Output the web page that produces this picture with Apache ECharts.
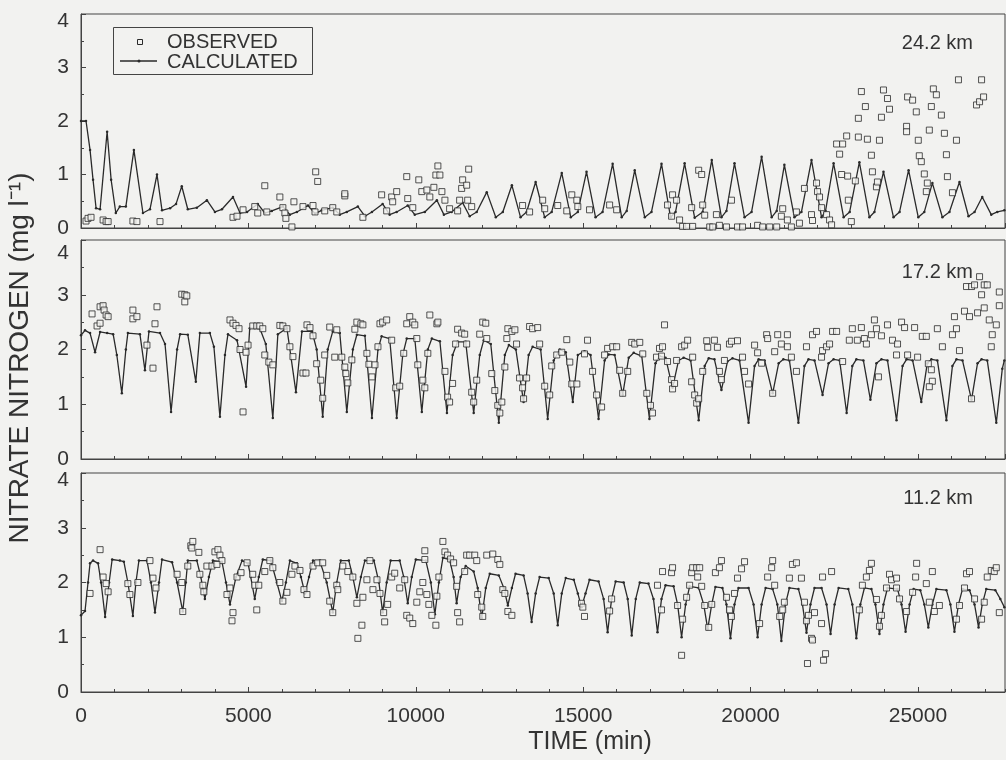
<!DOCTYPE html>
<html><head><meta charset="utf-8">
<script src="https://cdn.jsdelivr.net/npm/echarts@6/dist/echarts.min.js"></script>
<style>html,body{margin:0;padding:0;background:#f2f2f0}#c{width:1006px;height:760px}</style>
</head><body><div id="c"></div>
<script>
// ---- data (time in minutes, nitrate nitrogen in mg/l) ----
const stations = ['24.2 km', '17.2 km', '11.2 km'];
const xTitle = 'TIME (min)';
const yTitle = 'NITRATE NITROGEN (mg l\u207B\u00B9)';
const legendNames = ['OBSERVED', 'CALCULATED'];

const calc242 = [[0,2.0],[150,2.0],[270,1.46],[360,0.9],[450,0.37],[570,0.35],[780,1.8],[900,0.9],[1040,0.28],[1160,0.4],[1340,0.4],[1580,1.46],[1850,0.28],[2060,0.35],[2270,1.0],[2420,0.33],[2660,0.37],[2840,0.45],[3010,0.78],[3190,0.35],[3460,0.38],[3760,0.52],[4000,0.3],[4210,0.35],[4540,0.58],[4750,0.28],[4960,0.3],[5280,0.45],[5490,0.28],[5700,0.32],[6030,0.4],[6240,0.25],[6450,0.3],[6780,0.42],[6990,0.27],[7190,0.33],[7520,0.38],[7730,0.25],[7940,0.3],[8270,0.4],[8480,0.22],[8690,0.3],[9010,0.45],[9220,0.25],[9430,0.3],[9760,0.42],[9970,0.25],[10270,0.3],[10630,0.52],[10840,0.25],[11070,0.3],[11400,0.47],[11610,0.22],[11820,0.3],[12120,0.67],[12390,0.2],[12600,0.3],[12870,0.8],[13130,0.2],[13310,0.3],[13580,0.86],[13850,0.2],[14060,0.3],[14360,1.03],[14630,0.2],[14840,0.3],[15100,1.05],[15370,0.2],[15580,0.3],[15880,1.2],[16150,0.2],[16300,0.32],[16540,1.08],[16840,0.2],[17040,0.3],[17340,1.2],[17610,0.2],[17760,0.3],[18030,1.21],[18330,0.19],[18570,0.3],[18840,1.27],[19130,0.2],[19280,0.32],[19520,1.21],[19820,0.2],[20030,0.3],[20330,1.33],[20630,0.2],[20780,0.32],[21010,1.18],[21310,0.2],[21520,0.3],[21820,1.27],[22120,0.2],[22240,0.32],[22480,1.21],[22780,0.2],[22960,0.3],[23250,1.23],[23550,0.2],[23700,0.3],[23970,1.05],[24270,0.2],[24450,0.3],[24720,1.08],[25010,0.2],[25190,0.3],[25430,0.84],[25730,0.2],[25940,0.3],[26240,0.86],[26510,0.22],[26690,0.3],[26920,0.58],[27190,0.25],[27370,0.3],[27580,0.33]];

const obs242 = [[150,0.13],[210,0.18],[300,0.2],[660,0.15],[750,0.12],[810,0.12],[1550,0.13],[1670,0.12],[2360,0.12],[4540,0.2],[4660,0.22],[4840,0.34],[5190,0.4],[5280,0.28],[5490,0.79],[5550,0.3],[5940,0.58],[6030,0.38],[6090,0.28],[6120,0.18],[6300,0.02],[6360,0.49],[6630,0.4],[6930,0.42],[6990,0.3],[7010,1.05],[7070,0.87],[7280,0.32],[7520,0.38],[7640,0.3],[7880,0.6],[7880,0.64],[8420,0.2],[8980,0.62],[9130,0.32],[9280,0.58],[9310,0.49],[9430,0.68],[9730,0.96],[9760,0.55],[9910,0.38],[10090,0.9],[10180,0.68],[10330,0.71],[10420,0.58],[10540,0.76],[10600,0.99],[10660,1.16],[10720,0.99],[10780,0.68],[10870,0.52],[11010,0.36],[11250,0.32],[11310,0.52],[11370,0.74],[11400,0.9],[11520,0.8],[11580,1.1],[11550,0.52],[11670,0.4],[13190,0.42],[13400,0.3],[13790,0.52],[13850,0.36],[14240,0.42],[14510,0.32],[14660,0.62],[14810,0.52],[14840,0.4],[15190,0.34],[15790,0.43],[16000,0.34],[17520,0.43],[17640,0.22],[17670,0.62],[17790,0.52],[17880,0.15],[17970,0.03],[18090,0.03],[18240,0.38],[18270,0.03],[18450,1.08],[18540,1.0],[18570,0.43],[18630,0.24],[18780,0.02],[18870,0.02],[18980,0.25],[19070,0.05],[19280,0.02],[19430,0.52],[19610,0.02],[19760,0.02],[20210,0.05],[20360,0.02],[20570,0.02],[20780,0.02],[20920,0.22],[20960,0.36],[21100,0.15],[21220,0.02],[21370,0.3],[21460,0.09],[21610,0.74],[21820,0.25],[21850,0.14],[21970,0.84],[22000,0.68],[22060,0.58],[22120,0.38],[22270,0.25],[22360,0.15],[22420,0.06],[22570,1.57],[22750,1.57],[22660,1.38],[22720,1.0],[22870,1.72],[22900,0.97],[22920,0.52],[23010,0.12],[23130,0.88],[23220,2.05],[23220,1.7],[23310,2.55],[23430,2.27],[23490,1.66],[23610,1.36],[23640,1.05],[23760,0.77],[23790,0.86],[23850,1.64],[23910,2.07],[23970,2.58],[24090,2.42],[24150,2.22],[24660,1.9],[24660,1.8],[24690,2.45],[24840,2.39],[24950,2.17],[25010,1.64],[25040,1.35],[25100,1.24],[25190,1.01],[25250,0.68],[25280,0.84],[25340,1.83],[25400,2.27],[25460,2.6],[25550,2.49],[25700,2.11],[25790,1.77],[25850,1.37],[25880,0.96],[26030,0.66],[26150,1.64],[26210,2.77],[26750,2.3],[26840,2.36],[26900,2.77],[26960,2.45]];

const calc172 = [[0,2.26],[120,2.35],[270,2.3],[420,1.95],[570,2.32],[780,2.3],[960,2.28],[1070,1.9],[1220,1.2],[1340,2.0],[1400,2.3],[1760,2.28],[1910,1.62],[2030,2.33],[2360,2.3],[2510,2.1],[2690,0.86],[2870,2.0],[2960,2.28],[3190,2.27],[3430,1.41],[3550,2.3],[3850,2.3],[3970,2.05],[4150,0.77],[4300,1.9],[4390,2.28],[4660,2.17],[4930,1.32],[5040,2.39],[5340,2.39],[5520,2.1],[5730,0.75],[5880,2.28],[6150,2.39],[6420,1.22],[6600,2.33],[6900,2.33],[7040,2.0],[7220,0.77],[7370,2.0],[7520,2.33],[7730,2.3],[7940,0.86],[8120,2.0],[8240,2.27],[8480,2.25],[8690,0.75],[8870,2.0],[8980,2.24],[9220,2.2],[9430,0.75],[9610,1.9],[9730,2.2],[9970,2.2],[10180,0.86],[10360,2.0],[10480,2.2],[10720,2.15],[10930,0.84],[11100,1.9],[11250,2.14],[11490,2.14],[11730,0.84],[11910,1.9],[12030,2.17],[12240,2.1],[12480,0.66],[12660,1.9],[12780,2.08],[12990,2.0],[13220,1.04],[13370,1.9],[13490,2.05],[13730,2.0],[13940,0.73],[14120,1.8],[14300,2.0],[14480,1.95],[14690,1.04],[14840,1.9],[15040,1.97],[15220,1.9],[15460,0.73],[15640,1.8],[15760,1.91],[15940,1.9],[16180,1.17],[16360,1.85],[16510,1.94],[16750,1.88],[16980,0.73],[17160,1.75],[17280,1.88],[17460,1.85],[17670,1.3],[17850,1.8],[18000,1.85],[18210,1.8],[18450,0.71],[18630,1.7],[18750,1.84],[18920,1.82],[19130,1.26],[19310,1.78],[19460,1.84],[19670,1.8],[19940,0.66],[20120,1.7],[20240,1.82],[20420,1.8],[20660,1.2],[20840,1.75],[20980,1.82],[21160,1.8],[21430,0.66],[21610,1.7],[21730,1.82],[21910,1.8],[22150,1.17],[22330,1.75],[22480,1.82],[22660,1.8],[22870,0.84],[23040,1.7],[23160,1.82],[23370,1.8],[23580,1.08],[23760,1.75],[23910,1.82],[24090,1.8],[24360,0.71],[24540,1.7],[24660,1.82],[24840,1.8],[25100,1.04],[25280,1.75],[25400,1.82],[25580,1.8],[25850,0.71],[26030,1.7],[26150,1.82],[26330,1.8],[26600,1.08],[26780,1.75],[26900,1.82],[27070,1.8],[27340,0.66],[27520,1.65],[27580,1.8]];

const obs172 = [[330,2.65],[480,2.43],[570,2.78],[660,2.8],[690,2.72],[750,2.63],[810,2.6],[570,2.48],[1550,2.72],[1550,2.56],[1670,2.6],[1970,2.08],[2150,1.66],[2210,2.47],[2270,2.78],[3010,3.01],[3100,3.0],[3100,2.87],[3160,2.98],[4450,2.54],[4540,2.48],[4630,2.44],[4720,2.38],[4750,2.0],[4840,0.86],[4930,1.95],[4990,2.08],[5130,2.43],[5250,2.43],[5340,2.43],[5430,2.38],[5490,1.9],[5610,1.77],[5730,1.72],[5940,2.44],[6030,2.43],[6150,2.38],[6240,2.05],[6330,1.87],[6630,1.57],[6720,1.57],[6750,2.45],[6840,2.4],[6930,2.25],[7040,1.74],[7160,1.44],[7220,1.11],[7280,1.9],[7430,2.41],[7580,1.86],[7640,2.36],[7790,1.86],[7880,1.68],[7910,1.56],[7970,1.39],[8090,1.81],[8180,2.37],[8240,2.5],[8360,2.47],[8420,2.45],[8540,1.93],[8600,1.73],[8690,1.5],[8780,1.72],[8870,2.05],[8930,2.47],[9010,2.5],[9130,2.54],[9280,2.17],[9400,1.3],[9520,1.33],[9640,1.93],[9730,2.47],[9820,2.6],[9910,2.5],[9970,2.45],[10030,2.2],[10060,1.72],[10210,1.44],[10270,1.3],[10360,1.93],[10420,2.63],[10630,2.47],[10660,2.5],[10870,1.6],[10950,1.13],[11010,1.04],[11100,1.38],[11190,2.1],[11250,2.37],[11370,2.3],[11460,2.28],[11520,2.1],[11670,1.22],[11730,1.04],[11820,1.44],[11910,2.28],[12000,2.5],[12090,2.48],[12120,2.2],[12270,1.56],[12360,1.25],[12450,0.98],[12510,0.84],[12570,1.04],[12660,1.68],[12720,2.2],[12750,2.38],[12870,2.33],[12960,2.36],[13010,2.1],[13100,1.48],[13190,1.3],[13220,1.1],[13310,1.48],[13400,2.42],[13490,2.38],[13640,2.4],[13700,2.1],[13850,1.33],[14000,1.17],[14060,1.7],[14210,1.9],[14360,1.95],[14510,2.18],[14600,1.77],[14660,1.37],[14810,1.37],[15040,1.92],[15130,2.17],[15280,1.6],[15400,1.17],[15550,0.95],[15640,1.9],[15730,2.02],[15880,2.05],[16000,2.05],[16090,1.62],[16180,1.2],[16330,1.6],[16450,2.13],[16540,2.1],[16690,2.13],[16780,1.92],[16900,1.2],[17010,0.98],[17070,0.84],[17190,1.86],[17280,2.02],[17370,2.05],[17430,2.45],[17340,1.88],[17520,1.78],[17640,1.45],[17670,1.28],[17730,1.38],[17790,1.8],[17940,2.05],[18030,2.08],[18120,2.17],[18270,1.86],[18240,1.41],[18330,1.17],[18390,1.02],[18450,1.1],[18570,1.6],[18690,2.16],[18720,2.04],[18920,2.17],[19010,2.04],[19070,1.6],[19130,1.45],[19220,1.8],[19370,2.1],[19430,2.15],[19610,2.16],[19760,1.86],[19820,1.6],[19940,1.37],[20120,2.08],[20210,1.94],[20330,1.75],[20480,2.27],[20510,2.2],[20660,1.2],[20720,1.96],[20810,2.27],[20920,2.1],[21100,2.27],[21100,2.05],[21220,1.86],[21370,1.6],[21670,2.05],[21850,2.27],[21970,2.33],[22120,1.86],[22150,1.98],[22270,2.05],[22360,2.1],[22450,2.33],[22570,2.33],[22750,1.78],[22950,2.17],[23040,2.38],[23190,2.17],[23310,2.4],[23400,2.2],[23460,2.1],[23610,2.27],[23700,2.54],[23760,2.38],[23820,1.5],[23910,2.25],[24090,2.45],[24240,2.17],[24360,1.9],[24390,2.1],[24510,2.5],[24600,2.4],[24690,1.9],[24900,2.4],[24990,1.86],[25130,2.24],[25250,2.24],[25310,1.74],[25400,1.63],[25430,1.42],[25340,1.32],[25580,2.38],[25730,2.05],[26030,2.27],[26150,2.38],[26090,2.6],[26240,1.98],[26390,2.7],[26450,3.15],[26540,2.6],[26600,1.1],[26600,3.15],[26690,3.18],[26780,2.67],[26840,3.33],[26900,3.0],[26980,2.76],[26980,3.18],[27070,3.18],[27130,2.54],[27190,2.05],[27220,2.27],[27340,2.45],[27430,2.8],[27430,3.05]];

const calc112 = [[0,1.4],[120,1.48],[210,2.0],[270,2.35],[360,2.4],[510,2.35],[600,2.0],[720,1.37],[840,2.0],[930,2.42],[1160,2.4],[1280,2.38],[1400,2.0],[1550,1.39],[1640,2.0],[1730,2.4],[1970,2.4],[2090,2.0],[2210,1.45],[2330,2.0],[2420,2.42],[2720,2.37],[2870,2.0],[3040,1.47],[3130,2.0],[3190,2.4],[3460,2.4],[3580,2.1],[3700,1.7],[3820,2.1],[3940,2.4],[4210,2.38],[4330,2.0],[4450,1.6],[4630,2.1],[4810,2.4],[4990,2.35],[5070,2.1],[5190,1.7],[5310,2.1],[5430,2.42],[5670,2.4],[5850,2.0],[6000,1.66],[6120,2.0],[6240,2.4],[6450,2.35],[6570,2.1],[6690,1.8],[6810,2.1],[6930,2.4],[7130,2.4],[7340,2.0],[7520,1.45],[7640,2.0],[7760,2.4],[8000,2.4],[8120,2.1],[8240,1.73],[8360,2.1],[8480,2.4],[8750,2.4],[8900,2.0],[9010,1.45],[9130,2.0],[9250,2.4],[9520,2.4],[9640,2.1],[9760,1.62],[9880,2.1],[10000,2.42],[10300,2.4],[10450,2.0],[10570,1.42],[10690,2.0],[10810,2.45],[11010,2.42],[11130,2.1],[11220,1.62],[11340,2.1],[11490,2.3],[11730,2.2],[11850,1.9],[11970,1.35],[12090,1.9],[12210,2.16],[12480,2.13],[12630,1.9],[12750,1.58],[12870,1.9],[12980,2.16],[13220,2.13],[13340,1.8],[13460,1.28],[13580,1.8],[13700,2.1],[13970,2.08],[14120,1.8],[14240,1.22],[14360,1.8],[14480,2.08],[14720,2.05],[14840,1.8],[14950,1.55],[15070,1.8],[15190,2.05],[15460,2.02],[15610,1.7],[15730,1.09],[15850,1.7],[15970,2.02],[16210,2.0],[16330,1.7],[16450,1.03],[16570,1.7],[16690,2.0],[16950,1.98],[17100,1.7],[17220,1.09],[17340,1.7],[17460,1.95],[17700,1.93],[17820,1.6],[17940,1.0],[18060,1.6],[18180,1.93],[18450,1.9],[18600,1.6],[18720,1.15],[18840,1.6],[18950,1.92],[19160,1.9],[19280,1.6],[19400,0.98],[19520,1.6],[19640,1.9],[19940,1.9],[20090,1.6],[20210,1.0],[20330,1.6],[20450,1.9],[20660,1.88],[20800,1.6],[20920,0.93],[21040,1.6],[21160,1.9],[21430,1.88],[21550,1.6],[21670,1.08],[21790,1.6],[21910,1.9],[22120,1.9],[22270,1.6],[22390,1.06],[22510,1.6],[22630,1.9],[22920,1.88],[23040,1.6],[23160,0.98],[23280,1.6],[23400,1.9],[23610,1.88],[23730,1.6],[23850,1.06],[23970,1.6],[24090,1.9],[24390,1.88],[24510,1.6],[24630,1.1],[24750,1.6],[24870,1.88],[25070,1.86],[25190,1.6],[25310,1.18],[25430,1.6],[25550,1.88],[25850,1.86],[25970,1.6],[26090,1.1],[26210,1.6],[26330,1.88],[26540,1.86],[26690,1.6],[26810,1.18],[26920,1.6],[27040,1.88],[27310,1.86],[27460,1.7],[27580,1.55]];

const obs112 = [[270,1.8],[570,2.6],[660,2.1],[750,1.98],[810,1.83],[1400,1.98],[1460,1.78],[1700,2.0],[2060,2.4],[2150,2.08],[2240,1.9],[2870,2.15],[3010,2.0],[3040,1.47],[3190,2.3],[3280,2.67],[3340,2.75],[3310,2.63],[3520,2.55],[3550,2.15],[3640,1.95],[3670,1.83],[3760,2.3],[3910,2.3],[4000,2.56],[4090,2.6],[4150,2.5],[4210,2.4],[4060,2.33],[4360,1.78],[4450,1.9],[4510,1.3],[4540,1.45],[4660,2.1],[4780,2.18],[4960,2.36],[5130,2.15],[5190,1.95],[5250,1.5],[5310,1.95],[5490,2.2],[5640,2.4],[5730,2.27],[5940,2.0],[6030,1.66],[6150,1.82],[6300,2.15],[6390,2.3],[6540,2.22],[6660,1.87],[6750,1.78],[6930,2.3],[7070,2.36],[7220,2.36],[7340,2.13],[7430,1.66],[7520,1.45],[7640,1.95],[7670,1.87],[7820,2.3],[7970,2.2],[8120,2.1],[8240,1.62],[8270,0.98],[8390,1.22],[8420,1.73],[8540,2.05],[8630,2.4],[8720,1.87],[8840,2.05],[8930,1.8],[9040,1.45],[9070,1.28],[9160,1.6],[9280,2.1],[9370,2.17],[9520,1.9],[9670,2.05],[9730,1.4],[9820,1.35],[9910,1.25],[10030,1.64],[10120,1.83],[10210,2.0],[10270,2.58],[10270,2.42],[10330,1.78],[10390,1.6],[10480,1.4],[10600,1.22],[10630,1.75],[10690,2.1],[10810,2.75],[10870,2.56],[10950,2.5],[11040,2.43],[11130,2.36],[11220,1.93],[11250,1.45],[11310,1.28],[11460,2.2],[11520,2.5],[11610,2.5],[11760,2.5],[11820,2.4],[11850,1.78],[11970,1.55],[12000,1.38],[12120,2.5],[12300,2.52],[12450,2.42],[12510,2.33],[12600,1.87],[12660,1.8],[12750,1.47],[12870,1.4],[14950,1.62],[14990,1.55],[15040,1.38],[15790,1.48],[15850,1.7],[17220,1.95],[17370,2.2],[17340,1.5],[17640,2.18],[17670,2.27],[17820,1.58],[17940,0.67],[17970,1.33],[18090,1.73],[18180,1.95],[18240,2.18],[18270,2.27],[18390,2.27],[18420,2.1],[18480,2.27],[18540,1.93],[18630,1.58],[18750,1.18],[18840,1.6],[18950,2.18],[19070,2.27],[19130,2.4],[19280,1.73],[19370,1.5],[19430,1.38],[19520,1.8],[19610,2.08],[19730,2.25],[19820,2.38],[20270,1.25],[20510,2.1],[20630,2.27],[20660,2.4],[20720,1.95],[20870,1.38],[20960,1.5],[21010,1.64],[21160,2.08],[21250,2.33],[21370,2.36],[21520,2.08],[21610,1.64],[21670,1.3],[21700,0.52],[21730,1.4],[21820,0.98],[21850,0.95],[21910,1.45],[22120,1.25],[22150,2.1],[22180,0.58],[22240,0.7],[22420,2.2],[23250,1.5],[23340,1.95],[23460,2.1],[23550,2.22],[23610,2.35],[23760,1.69],[23850,1.2],[23910,1.4],[24060,1.9],[24150,2.15],[24210,2.05],[24360,2.08],[24360,1.9],[24450,1.7],[24660,1.47],[24840,1.82],[24930,2.1],[24960,2.35],[25250,1.98],[25340,1.64],[25430,2.2],[25490,1.47],[25640,1.58],[26150,1.33],[26240,1.58],[26390,1.9],[26450,2.16],[26540,2.2],[26690,1.7],[26900,1.33],[26980,1.64],[27070,2.1],[27190,2.22],[27280,2.2],[27340,2.27],[27430,1.45]];

const calcSets = [calc242, calc172, calc112];
const obsSets = [obs242, obs172, obs112];

// ---- chart ----
const BG = '#f2f2f0', INK = '#2a2a2a', AX = '#444';
const FONT = '"Liberation Sans", Arial, Helvetica, sans-serif';
const X_MAX = 27600;
const gridTops = [14, 240, 473], gridHeights = [214, 219, 219];
const topLabelPad = [15, 26, 14];

const grid = [], xAxis = [], yAxis = [], series = [];
for (let i = 0; i < 3; i++) {
  grid.push({ left: 81, right: 1, top: gridTops[i], height: gridHeights[i], show: true,
    borderColor: AX, borderWidth: 1, backgroundColor: 'transparent' });
  xAxis.push({ gridIndex: i, type: 'value', position: 'bottom', min: 0, max: X_MAX, interval: 5000,
    axisLine: { show: true, onZero: false, lineStyle: { color: AX, width: 1 } },
    axisTick: { show: true, inside: true, length: 5, lineStyle: { color: AX } },
    splitLine: { show: false },
    axisLabel: { show: i === 2, showMaxLabel: false, fontSize: 21, color: '#333', fontFamily: FONT, margin: 14,
      formatter: (v) => String(v) } });
  xAxis.push({ gridIndex: i, type: 'value', position: 'bottom', min: 0, max: X_MAX, interval: 1000,
    axisLine: { show: false }, splitLine: { show: false }, axisLabel: { show: false },
    axisTick: { show: true, inside: true, length: 3, lineStyle: { color: AX } } });
  const rich = {}; rich['t' + i] = { padding: [topLabelPad[i], 0, 0, 0], fontSize: 21, color: '#333', fontFamily: FONT };
  yAxis.push({ gridIndex: i, type: 'value', min: 0, max: 4, interval: 1,
    axisLine: { show: true, lineStyle: { color: AX, width: 1 } },
    axisTick: { show: true, inside: true, length: 5, lineStyle: { color: AX } },
    minorTick: { show: true, splitNumber: 2, length: 3, lineStyle: { color: AX } },
    splitLine: { show: false }, minorSplitLine: { show: false },
    axisLabel: { fontSize: 21, color: '#333', fontFamily: FONT, margin: 12,
      formatter: (v) => v === 4 ? '{t' + i + '|4}' : String(v), rich } });
  series.push({ name: legendNames[1], type: 'line', xAxisIndex: 2 * i, yAxisIndex: i, data: calcSets[i],
    symbol: 'circle', symbolSize: 2.5, showSymbol: true, z: 2,
    lineStyle: { color: INK, width: 1.3 }, itemStyle: { color: INK } });
  series.push({ name: legendNames[0], type: 'scatter', xAxisIndex: 2 * i, yAxisIndex: i, data: obsSets[i],
    symbol: 'rect', symbolSize: 6, z: 3,
    itemStyle: { color: BG, borderColor: INK, borderWidth: 1 } });
}

const graphic = [
  { type: 'text', x: 20, y: 358, rotation: Math.PI / 2,
    style: { text: yTitle, x: 0, y: 0, align: 'center', verticalAlign: 'middle', fill: '#333', fontSize: 28, fontFamily: FONT } },
  { type: 'text', x: 590, y: 742,
    style: { text: xTitle, align: 'center', verticalAlign: 'middle', fill: '#333', fontSize: 25, fontFamily: FONT } },
  // legend
  { type: 'rect', shape: { x: 113.5, y: 27.5, width: 199, height: 47 }, style: { fill: 'none', stroke: AX, lineWidth: 1 } },
  { type: 'rect', shape: { x: 137.5, y: 39.5, width: 5, height: 5 }, style: { fill: BG, stroke: INK, lineWidth: 1 } },
  { type: 'line', shape: { x1: 120, y1: 61, x2: 157, y2: 61 }, style: { stroke: INK, lineWidth: 1.3 } },
  { type: 'circle', shape: { cx: 139, cy: 61, r: 1.5 }, style: { fill: INK } },
  { type: 'text', x: 167, y: 42, style: { text: legendNames[0], verticalAlign: 'middle', fill: '#333', fontSize: 20, fontFamily: FONT } },
  { type: 'text', x: 167, y: 62, style: { text: legendNames[1], verticalAlign: 'middle', fill: '#333', fontSize: 20, fontFamily: FONT } }
];
const stationY = [43, 272, 498];
for (let i = 0; i < 3; i++) {
  graphic.push({ type: 'text', x: 973, y: stationY[i],
    style: { text: stations[i], align: 'right', verticalAlign: 'middle', fill: '#333', fontSize: 20, fontFamily: FONT } });
}

const chart = echarts.init(document.getElementById('c'), null, { renderer: 'canvas' });
chart.setOption({ backgroundColor: BG, animation: false, grid, xAxis, yAxis, series, graphic });
</script></body></html>
